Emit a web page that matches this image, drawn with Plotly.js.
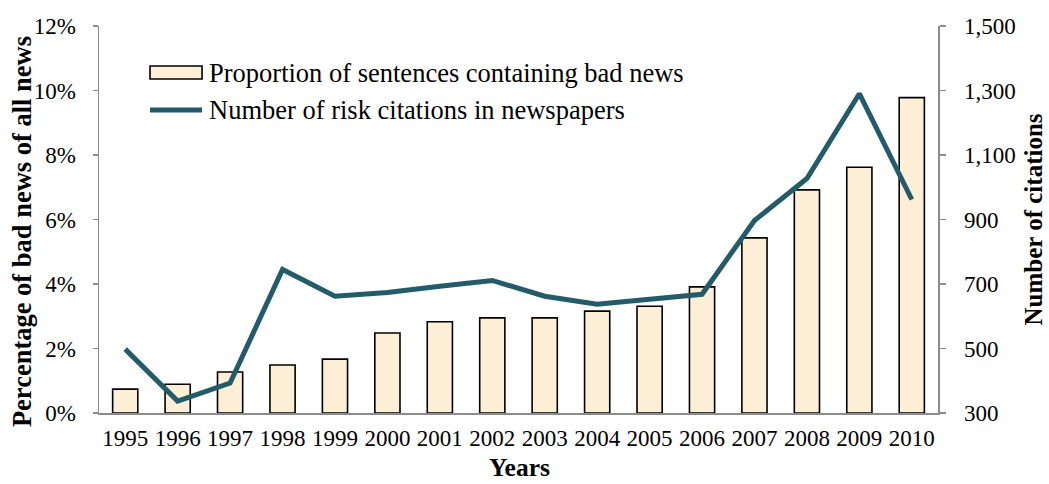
<!DOCTYPE html>
<html>
<head>
<meta charset="utf-8">
<script src="https://cdn.plot.ly/plotly-3.0.1.min.js"></script>
<style>html,body{margin:0;padding:0;background:#fff;}#chart{width:1049px;height:484px;}</style>
</head>
<body>
<div id="chart"></div>
<script>
const years = ['1995','1996','1997','1998','1999','2000','2001','2002','2003','2004','2005','2006','2007','2008','2009','2010'];
const badNewsShare = [0.0074,0.0089,0.0127,0.0149,0.0167,0.0248,0.0283,0.0295,0.0295,0.0316,0.0331,0.0391,0.0543,0.0692,0.0762,0.0978];
const riskCitations = [498,337,393,745,662,674,693,711,662,637,653,668,897,1027,1290,962];
const leftTicks = [0,0.02,0.04,0.06,0.08,0.10,0.12];
const rightTicks = [300,500,700,900,1100,1300,1500];
const barName = 'Proportion of sentences containing bad news';
const lineName = 'Number of risk citations in newspapers';

const serif = 'Liberation Serif, Times New Roman, serif';
const lineColor = '#245B6A';
const barColor = '#FCEFD6';
const axisColor = '#8C8C8C';

const traces = [
  {type:'bar', x: years, y: badNewsShare, name: barName, width: 0.48,
   marker:{color: barColor, line:{color:'#000', width:1.6}}, yaxis:'y', showlegend:false},
  {type:'scatter', mode:'lines', x: years, y: riskCitations, name: lineName,
   line:{color: lineColor, width:5}, yaxis:'y2', showlegend:false}
];

const layout = {
  width:1049, height:484,
  margin:{l:99, r:111, t:26, b:71},
  paper_bgcolor:'#fff', plot_bgcolor:'#fff',
  font:{family: serif, size:23, color:'#000'},
  showlegend:false,
  xaxis:{type:'category', showline:true, linecolor:axisColor, linewidth:1.5, ticks:'', showgrid:false,
         tickfont:{family:serif, size:23}, ticklabelstandoff:4, zeroline:false},
  yaxis:{range:[0,0.12], tickvals:leftTicks, tickformat:'.0%', showgrid:false, zeroline:false,
         showline:true, linecolor:axisColor, linewidth:1.5, ticks:'outside', ticklen:5, tickcolor:axisColor, tickwidth:1.5,
         tickfont:{family:serif, size:23}, ticklabelstandoff:12},
  yaxis2:{range:[300,1500], tickvals:rightTicks, tickformat:',d', overlaying:'y', side:'right', showgrid:false, zeroline:false,
         showline:true, linecolor:axisColor, linewidth:1.5, ticks:'outside', ticklen:6, tickcolor:axisColor, tickwidth:1.5,
         tickfont:{family:serif, size:23}, ticklabelstandoff:14},
  shapes:[
    {type:'rect', xref:'paper', yref:'paper', x0:0.0608, x1:0.1228, y0:0.863, y1:0.8966,
     fillcolor:barColor, line:{color:'#000', width:1.6}},
    {type:'line', xref:'paper', yref:'paper', x0:0.0608, x1:0.1228, y0:0.783, y1:0.783,
     line:{color:lineColor, width:5}}
  ],
  annotations:[
    {text: barName, xref:'paper', yref:'paper', x:0.1287, y:0.8798, xanchor:'left', yanchor:'middle', showarrow:false,
     font:{family:serif, size:26.5}},
    {text: lineName, xref:'paper', yref:'paper', x:0.1287, y:0.783, xanchor:'left', yanchor:'middle', showarrow:false,
     font:{family:serif, size:26.5}},
    {text:'<b>Percentage of bad news of all news</b>', xref:'paper', yref:'paper', x:-0.0918, y:0.470, textangle:-90,
     xanchor:'center', yanchor:'middle', showarrow:false, font:{family:serif, size:26.5}},
    {text:'<b>Number of citations</b>', xref:'paper', yref:'paper', x:1.1144, y:0.5, textangle:-90,
     xanchor:'center', yanchor:'middle', showarrow:false, font:{family:serif, size:25}},
    {text:'<b>Years</b>', xref:'paper', yref:'paper', x:0.5006, y:-0.1421,
     xanchor:'center', yanchor:'middle', showarrow:false, font:{family:serif, size:25.5}}
  ]
};

Plotly.newPlot('chart', traces, layout, {staticPlot:true, displayModeBar:false});
</script>
</body>
</html>
